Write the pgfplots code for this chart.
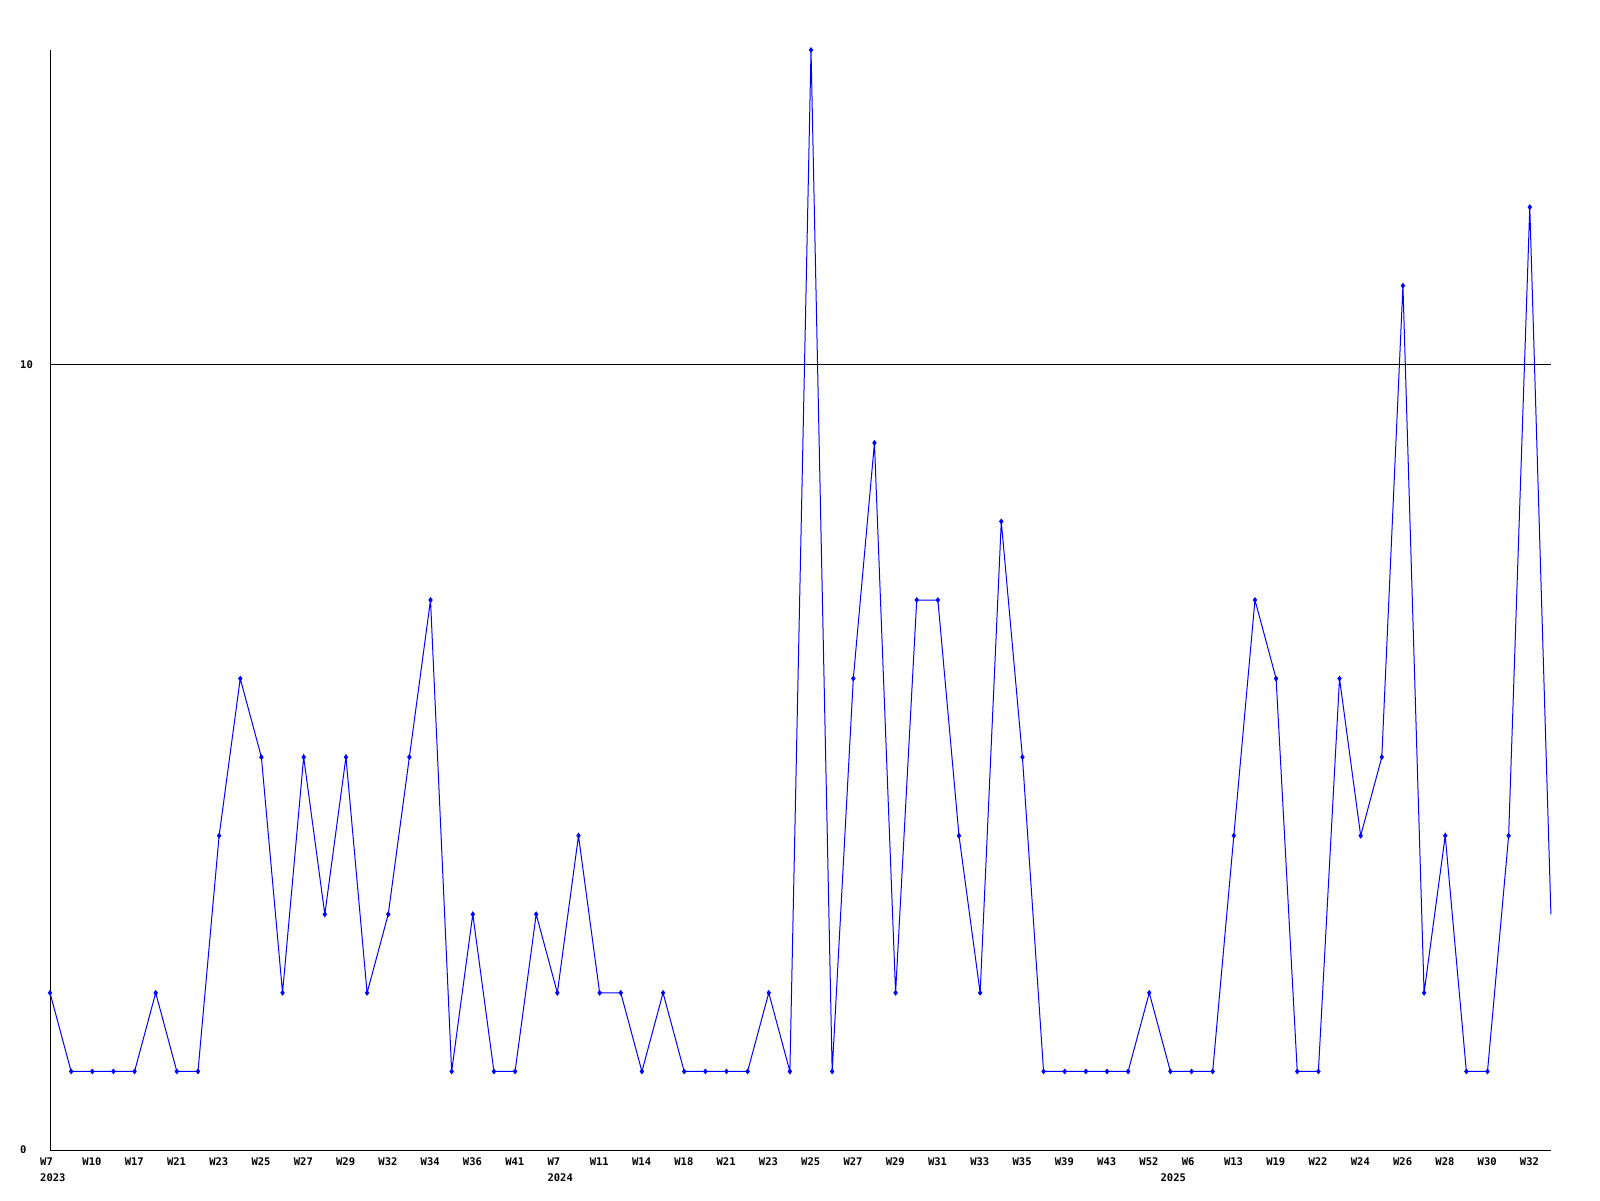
\documentclass[border=0pt]{standalone}
\usepackage{pgfplots}
\pgfplotsset{compat=1.18}
\usepackage{fontspec}
\setmainfont{DejaVu Sans Mono}
\begin{document}
\begin{tikzpicture}
\useasboundingbox (0,0) rectangle (1600pt,1200pt);
\begin{axis}[
  at={(50pt,50pt)}, anchor=south west,
  scale only axis, width=1501pt, height=1100pt,
  xmin=0, xmax=71, ymin=0, ymax=14,
  axis lines=left, axis line style={-, line width=1pt, black},
  ytick={0,10}, yticklabels={0,10},
  ymajorgrids, grid style={line width=1pt, black},
  major tick length=0pt,
  xtick={0,2,4,6,8,10,12,14,16,18,20,22,24,26,28,30,32,34,36,38,40,42,44,46,48,50,52,53,54,56,58,60,62,64,66,68,70},
  xticklabels={{W7\\2023},W10,W17,W21,W23,W25,W27,W29,W32,W34,W36,W41,{W7\\2024},W11,W14,W18,W21,W23,W25,W27,W29,W31,W33,W35,W39,W43,W52,{\phantom{W}\\2025},W6,W13,W19,W22,W24,W26,W28,W30,W32},
  xticklabel style={anchor=north west, align=left, inner sep=0pt, xshift=-10pt, yshift=-8pt, font=\fontsize{10.5}{15.5}\selectfont\bfseries},
  yticklabel style={anchor=west, inner sep=0pt, xshift=-30pt, font=\fontsize{10.5}{15}\selectfont\bfseries},
  clip=false,
]
\addplot[blue, line width=1pt, mark=diamond*, mark size=2.5pt, mark options={fill=blue, line width=0.5pt}, mark indices={1,...,71}] coordinates {
(0,2)(1,1)(2,1)(3,1)(4,1)(5,2)(6,1)(7,1)(8,4)(9,6)(10,5)(11,2)(12,5)(13,3)(14,5)(15,2)(16,3)(17,5)(18,7)(19,1)(20,3)(21,1)(22,1)(23,3)(24,2)(25,4)(26,2)(27,2)(28,1)(29,2)(30,1)(31,1)(32,1)(33,1)(34,2)(35,1)(36,14)(37,1)(38,6)(39,9)(40,2)(41,7)(42,7)(43,4)(44,2)(45,8)(46,5)(47,1)(48,1)(49,1)(50,1)(51,1)(52,2)(53,1)(54,1)(55,1)(56,4)(57,7)(58,6)(59,1)(60,1)(61,6)(62,4)(63,5)(64,11)(65,2)(66,4)(67,1)(68,1)(69,4)(70,12)(71,3)
};
\end{axis}
\end{tikzpicture}
\end{document}
